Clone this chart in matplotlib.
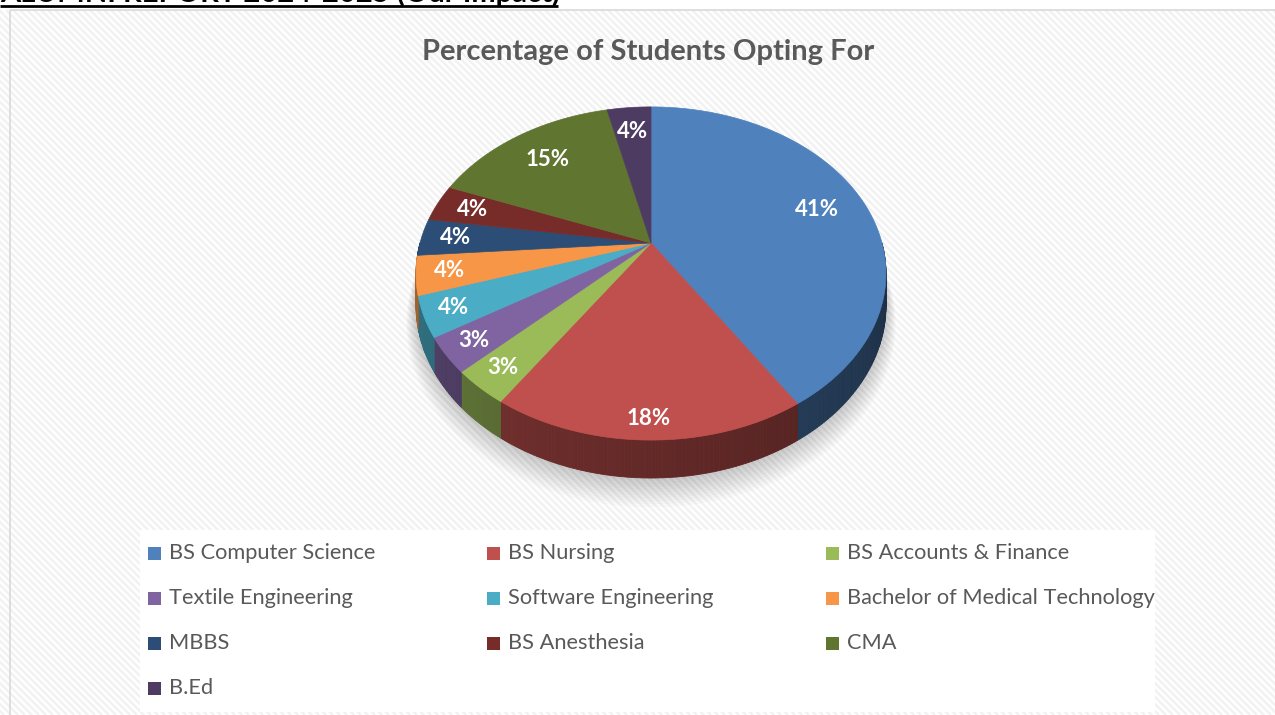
import numpy as np
import matplotlib
matplotlib.use("Agg")
import matplotlib.pyplot as plt
from matplotlib.patches import Rectangle, Polygon
from matplotlib.collections import LineCollection
from matplotlib.colors import to_rgb

# ---------------- data ----------------
categories = ["BS Computer Science", "BS Nursing", "BS Accounts & Finance",
              "Textile Engineering", "Software Engineering",
              "Bachelor of Medical Technology", "MBBS", "BS Anesthesia",
              "CMA", "B.Ed"]
# estimated shares (%); labels show them rounded
values = [41.0, 18.3, 3.4, 3.4, 3.9, 3.8, 3.6, 3.6, 15.4, 3.6]
colors = ["#4F81BD", "#C0504D", "#9BBB59", "#8064A2", "#4BACC6",
          "#F79646", "#2C4D75", "#772C2A", "#5F7530", "#4D3B62"]
title = "Percentage of Students Opting For"
header = "ALUMNI REPORT 2024-2025 (Our Impact)"

# label radial fraction (style)
label_r = [0.78, 0.91, 0.88, 0.88, 0.88, 0.86, 0.85, 0.83, 0.76, 0.80]

W, H = 1275, 715
fig = plt.figure(figsize=(W / 100, H / 100), dpi=100)
ax = fig.add_axes([0, 0, 1, 1])
ax.set_xlim(0, W)
ax.set_ylim(H, 0)
ax.axis("off")

# chart background with fine diagonal stripes
bg = Rectangle((10, 10), W, H, facecolor="white", edgecolor="none", zorder=0)
ax.add_patch(bg)
segs = []
for c in np.arange(-H, W + 20, 7.0):
    segs.append([(c, 10), (c + (H - 10), H)])
lc = LineCollection(segs, colors="#F2F2F2", linewidths=1.9, zorder=0.5)
lc.set_clip_path(bg)
ax.add_collection(lc)
ax.add_patch(Rectangle((10, 10), W, H, facecolor="none", edgecolor="#D9D9D9",
                       linewidth=1.2, zorder=0.6))

# header (cut off at top, as in the source page)
ax.text(0, 2, header, fontsize=21, fontweight="bold", family="Lato",
        color="black", ha="left", va="baseline", zorder=5)
ax.plot([0, 558], [5.5, 5.5], color="black", lw=2.0, solid_capstyle="butt", zorder=5)

# title
ax.text(648, 52, title, fontsize=21, fontweight="bold", family="Lato",
        color="#595959", ha="center", va="center", zorder=5)

# ---------------- 3D pie projection ----------------
CX, CY = 651, 243
A, B, K, D = 231, 161, 0.183, 31


def proj(theta_deg, r=1.0, z=0.0):
    t = np.radians(theta_deg)
    X = r * np.cos(t)
    Y = r * np.sin(t)
    w = 1 + K * Y
    return CX + A * X / w, CY - B * Y / w + D * z / w


vals = np.array(values, dtype=float)
fr = vals / vals.sum()
starts = 90 - 360 * np.concatenate([[0], np.cumsum(fr)[:-1]])
ends = starts - 360 * fr

# soft shadow beneath pie
for i in range(10):
    th = np.linspace(-200, 20, 200)
    rr = 1.0 + 0.004 * (i + 1)
    xs, ys = proj(th, rr, 1.0 + 0.05 * (i + 1))
    ax.fill(xs, ys, color="black", alpha=0.018, lw=0, zorder=1)

# side walls (front half only)
for s, e, c in zip(starts, ends, colors):
    lo, hi = max(e, -180), min(s, 0)
    if hi <= lo:
        continue
    n = max(int((hi - lo) / 0.7), 1)
    edges = np.linspace(lo, hi, n + 1)
    base = np.array(to_rgb(c))
    for a0, a1 in zip(edges[:-1], edges[1:]):
        mid = 0.5 * (a0 + a1)
        f = 0.68 - 0.33 * (mid + 180) / 180
        col = np.clip(base * f, 0, 1)
        th = np.array([a0, a1])
        x0, y0 = proj(th, 1.0, 0.0)
        x1, y1 = proj(th[::-1], 1.0, 1.0)
        poly = np.column_stack([np.concatenate([x0, x1]), np.concatenate([y0, y1])])
        ax.add_patch(Polygon(poly, closed=True, facecolor=col, edgecolor=col,
                             lw=0.6, zorder=2))

# top faces
for s, e, c in zip(starts, ends, colors):
    th = np.linspace(s, e, max(int(abs(s - e) * 2), 4))
    xs, ys = proj(th)
    poly = np.column_stack([np.concatenate([[CX], xs]), np.concatenate([[CY], ys])])
    ax.add_patch(Polygon(poly, closed=True, facecolor=c, edgecolor=c, lw=0.5, zorder=3))

# data labels
for s, e, v, lr in zip(starts, ends, values, label_r):
    mid = 0.5 * (s + e)
    lx, ly = proj(mid, lr)
    ax.text(lx, ly, f"{v:.0f}%", fontsize=16, fontweight="bold", family="Lato",
            color="white", ha="center", va="center", zorder=4)

# ---------------- legend ----------------
ax.add_patch(Rectangle((140, 530), 1015, 182, facecolor="white", edgecolor="none", zorder=1))
col_x = [148, 487, 826]
row_y = [553, 598, 643, 688]
for i, (name, c) in enumerate(zip(categories, colors)):
    r, cidx = divmod(i, 3)
    x, y = col_x[cidx], row_y[r]
    ax.add_patch(Rectangle((x, y - 6.5), 13, 13, facecolor=c, edgecolor="none", zorder=4))
    ax.text(x + 21, y, name, fontsize=15.7, family="Lato", color="#595959",
            ha="left", va="center", zorder=4)

fig.savefig("out.png", dpi=100)
